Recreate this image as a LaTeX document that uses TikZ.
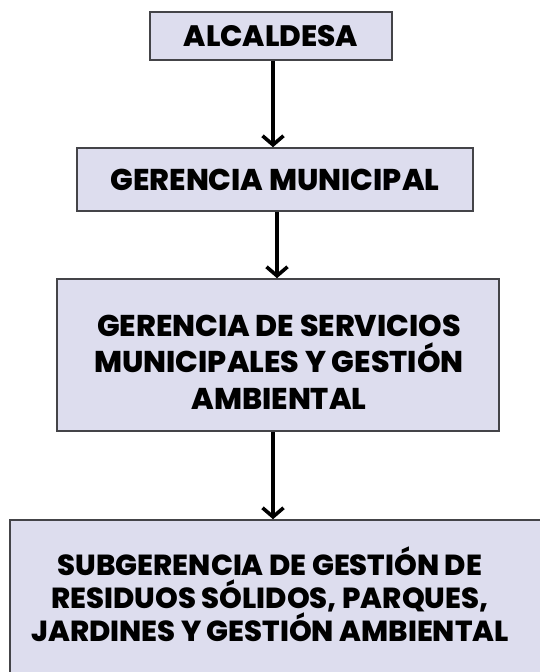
\documentclass[tikz,border=0pt]{standalone}
\usepackage{fontspec}
\setmainfont{Poppins}[UprightFont=* ExtraBold]
\usetikzlibrary{arrows.meta}
\definecolor{boxfill}{RGB}{221,221,238}
\definecolor{boxline}{RGB}{68,68,72}
\tikzset{
  orgbox/.style={draw=boxline, line width=1.6pt, fill=boxfill, inner sep=0pt, align=center},
  link/.style={line width=3.4pt, -{Straight Barb[length=9pt,width=21pt,line width=3.6pt]}},
  lbl/.style={align=center, inner sep=0pt},
}
\begin{document}
\begin{tikzpicture}[x=1pt,y=-1pt]
\useasboundingbox (0,0) rectangle (540,672);
\fill[white] (0,0) rectangle (540,672);
\clip (0,0) rectangle (540,672);
\node[orgbox, minimum width=242pt, minimum height=48pt, font=\fontsize{29.5}{33}\selectfont] (alc) at (271,36) {ALCALDESA};
\node[orgbox, minimum width=396pt, minimum height=63pt, font=\fontsize{30}{33}\selectfont] (ger) at (275,179.5) {GERENCIA MUNICIPAL};
\node[orgbox, minimum width=442pt, minimum height=152pt] (gsm) at (278,355) {};
\node[lbl, font=\fontsize{30}{36.5}\selectfont] (gsmtxt) at (279,362) {GERENCIA DE SERVICIOS\\MUNICIPALES Y GESTIÓN\\AMBIENTAL};
\node[orgbox, minimum width=560pt, minimum height=200pt] (sub) at (290,620) {};
\node[lbl, font=\fontsize{29}{33}\selectfont] (subtxt) at (270,594) {SUBGERENCIA DE GESTIÓN DE\\RESIDUOS SÓLIDOS, PARQUES,\\JARDINES Y GESTIÓN AMBIENTAL};
\draw[link] (alc.south -| 273,0) -- (ger.north -| 273,0);
\draw[link] (ger.south -| 277,0) -- (gsm.north -| 277,0);
\draw[link] (gsm.south -| 273,0) -- (sub.north -| 273,0);
\end{tikzpicture}
\end{document}
